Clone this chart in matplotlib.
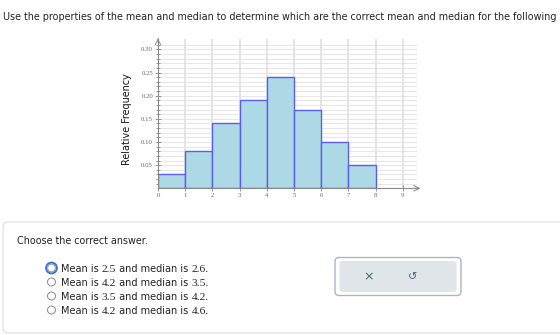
import numpy as np
import matplotlib
matplotlib.use('Agg')
from matplotlib import pyplot as plt
from matplotlib.patches import FancyBboxPatch, Circle

# histogram data
edges = [0, 1, 2, 3, 4, 5, 6, 7, 8]
freqs = [0.03, 0.08, 0.14, 0.19, 0.24, 0.17, 0.10, 0.05]
xticks = [0, 1, 2, 3, 4, 5, 6, 7, 8, 9]
yticks = [0.05, 0.10, 0.15, 0.20, 0.25, 0.30]
ylabels = ['0.05', '0.10', '0.15', '0.20', '0.25', '0.30']

question = ("Use the properties of the mean and median to determine which are the "
            "correct mean and median for the following")
prompt = "Choose the correct answer."
means = ['2.5', '4.2', '3.5', '4.2']
medians = ['2.6', '3.5', '4.2', '4.6']

W, H = 560, 335
fig = plt.figure(figsize=(W / 100, H / 100), dpi=100)

# page layer in pixel coords
bg = fig.add_axes([0, 0, 1, 1])
bg.set_xlim(0, W)
bg.set_ylim(H, 0)
bg.axis('off')

sans = 'DejaVu Sans'
serif = 'Liberation Serif'
txt = '#222222'

bg.text(3, 20, question, fontsize=6.9, family=sans, color=txt, va='baseline')

# answer box
box = FancyBboxPatch((3, 222), 600, 111, boxstyle='round,pad=0,rounding_size=5',
                     facecolor='white', edgecolor='#dddddd', lw=0.8)
bg.add_patch(box)
bg.text(17, 244, prompt, fontsize=6.95, family=sans, color=txt, va='baseline')

rows = [268, 282, 296, 310]
for i, y in enumerate(rows):
    if i == 0:
        bg.add_patch(Circle((51.5, y), 5.4, facecolor='white', edgecolor='#3b73d6', lw=1.4))
        bg.add_patch(Circle((51.5, y), 3.8, facecolor='white', edgecolor='#8a8a8a', lw=0.6))
    else:
        bg.add_patch(Circle((51.5, y), 4.0, facecolor='white', edgecolor='#8a8a8a', lw=0.7))
    t = bg.text(61, y + 3.5, 'Mean is ', fontsize=7.0, family=sans, color=txt, va='baseline')
    t = bg.annotate(means[i], xy=(1, 0), xycoords=t, fontsize=8.2, family=serif, color=txt,
                    va='bottom')
    t = bg.annotate(' and median is ', xy=(1, 0), xycoords=t, fontsize=7.0, family=sans,
                    color=txt, va='bottom')
    bg.annotate(medians[i] + '.', xy=(1, 0), xycoords=t, fontsize=8.2, family=serif,
                color=txt, va='bottom')

# buttons
bg.add_patch(FancyBboxPatch((335, 257.5), 126, 38, boxstyle='round,pad=0,rounding_size=4',
                            facecolor='white', edgecolor='#aab7be', lw=1.0))
bg.add_patch(FancyBboxPatch((339.5, 261), 117, 31, boxstyle='round,pad=0,rounding_size=3',
                            facecolor='#dfe5e8', edgecolor='none'))
bg.text(369, 277, '\u00d7', fontsize=9, family=sans, color='#4b6470', ha='center', va='center')
bg.text(413, 277, '\u21ba', fontsize=8, family=sans, color='#4b6470', ha='center', va='center')

# chart
ax = fig.add_axes([0.2821, 0.4379, 0.4664, 0.456])
ax.set_xlim(0, 9.6)
ax.set_ylim(0, 0.33)
ax.patch.set_alpha(0)

for yy in np.arange(0.01, 0.315, 0.01):
    ax.plot([0, 9.5], [yy, yy], color='#e6e6e6', lw=0.8, zorder=0)
for xx in xticks[1:]:
    ax.plot([xx, xx], [0, 0.32], color='#e2e2e2', lw=1.3, zorder=0)

ax.bar(edges[:-1], freqs, width=1, align='edge', facecolor='#add8e6',
       edgecolor='#5a5ef0', lw=1.0, zorder=2)

for s in ['top', 'right']:
    ax.spines[s].set_visible(False)
ax.spines['left'].set_color('#888888')
ax.spines['bottom'].set_color('#888888')
ax.spines['left'].set_linewidth(0.8)
ax.spines['bottom'].set_linewidth(0.8)
ax.spines['left'].set_bounds(0, 0.325)
ax.spines['bottom'].set_bounds(0, 9.55)
ax.annotate('', xy=(0, 0.33), xytext=(0, 0.31),
            arrowprops=dict(arrowstyle='->', color='#888888', lw=0.7))
ax.annotate('', xy=(9.75, 0), xytext=(9.3, 0), annotation_clip=False,
            arrowprops=dict(arrowstyle='->', color='#888888', lw=0.7))

ax.set_yticks(yticks)
ax.set_yticklabels(ylabels, family=serif, fontsize=4.9, color='#666666')
ax.set_yticks(np.arange(0.01, 0.315, 0.01), minor=True)
ax.set_xticks(xticks)
ax.set_xticklabels([str(v) for v in xticks], family=serif, fontsize=4.9, color='#666666')
ax.tick_params(axis='y', which='major', direction='inout', length=5, width=0.6,
               color='#888888', pad=1)
ax.tick_params(axis='y', which='minor', direction='inout', length=3.5, width=0.6,
               color='#888888')
ax.tick_params(axis='x', direction='inout', length=4, width=0.6, color='#888888', pad=1.5)

ax.set_ylabel('Relative Frequency', family=sans, fontsize=6.9, color='#111111')
ax.yaxis.set_label_coords(-0.10, 0.45)

fig.savefig('out.png', dpi=100)
